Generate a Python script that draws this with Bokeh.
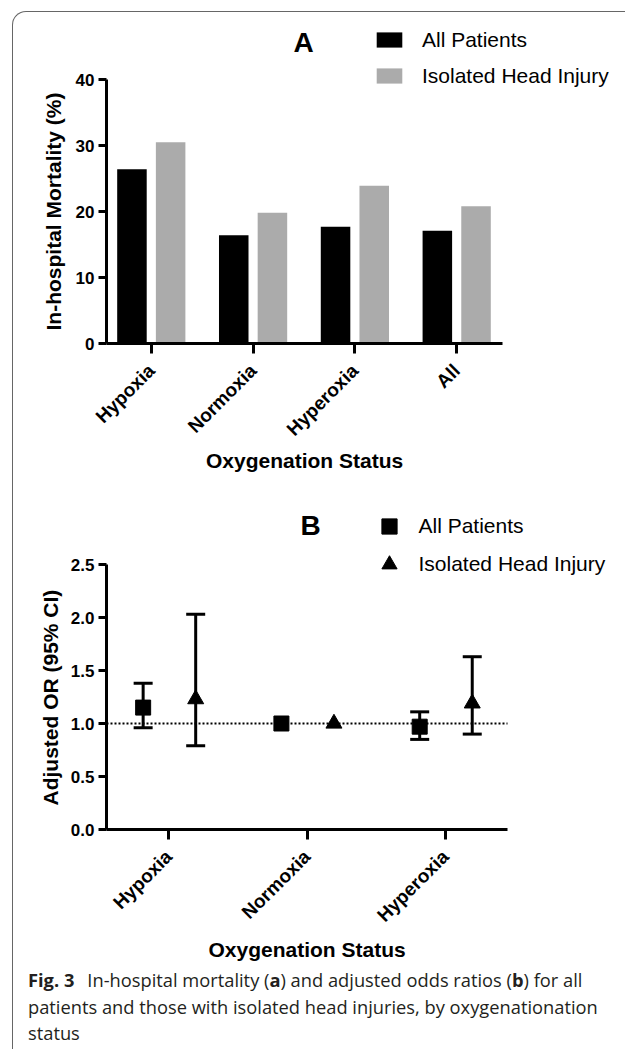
import math
from bokeh.plotting import figure
from bokeh.layouts import column
from bokeh.models import (ColumnDataSource, Range1d, FixedTicker, Legend, LegendItem,
                          Label, Title, Whisker, TeeHead, CustomJSTickFormatter, Div)
from bokeh.transform import dodge
from bokeh.embed import file_html
from bokeh.resources import INLINE

# ---------------- data ----------------
categories_a = ["Hypoxia", "Normoxia", "Hyperoxia", "All"]
mortality_all_patients = [26.4, 16.4, 17.7, 17.1]
mortality_isolated_head = [30.5, 19.8, 23.9, 20.8]
yticks_a = [0, 10, 20, 30, 40]

categories_b = ["Hypoxia", "Normoxia", "Hyperoxia"]
or_all_patients = [1.15, 1.00, 0.97]
or_all_lower = [0.96, None, 0.85]
or_all_upper = [1.38, None, 1.11]
or_isolated_head = [1.23, 1.00, 1.19]
or_ihi_lower = [0.79, None, 0.90]
or_ihi_upper = [2.03, None, 1.63]
yticks_b = [0.0, 0.5, 1.0, 1.5, 2.0, 2.5]
null_or = 1.0

series_names = ["All Patients", "Isolated Head Injury"]
panel_titles = ["A", "B"]
axis_title_x = "Oxygenation Status"
axis_title_ya = "In-hospital Mortality (%)"
axis_title_yb = "Adjusted OR (95% CI)"
caption_label = "Fig. 3"
caption_line1 = ["In-hospital mortality (", "a", ") and adjusted odds ratios (", "b", ") for all"]
caption_line2 = "patients and those with isolated head injuries, by oxygenationation"
caption_line3 = "status"

# ---------------- style / geometry ----------------
AX_FONT = "Liberation Sans"
CAP_FONT = "Open Sans"
BLACK = "#000000"
GREY = "#ababab"
W = 612
LEFT = 93          # common frame left (column children share it)
X_TITLE_W = 197    # approx rendered width of the x-axis title
ORIGIN_X = 13


class Panel:
    def __init__(self, origin_y, height, axis_right, y_axis_top, bottom, xaxis, yaxis,
                 y_title_len):
        self.origin = (ORIGIN_X, origin_y)
        self.height = height
        self.left, self.top, self.bottom = LEFT, 5, bottom
        self.xaxis, self.yaxis = xaxis, yaxis
        self.ppx = (axis_right - LEFT) / (xaxis[1] - xaxis[0])
        self.ppy = (bottom - y_axis_top) / (yaxis[1] - yaxis[0])
        self.x_range = (xaxis[0], xaxis[0] + (W - LEFT) / self.ppx)
        self.y_range = (yaxis[0], yaxis[0] + (bottom - self.top) / self.ppy)
        axis_cx = (LEFT + axis_right) / 2
        axis_cy = (bottom + y_axis_top) / 2
        self.x_title_offset = axis_cx - X_TITLE_W / 2 - LEFT
        self.y_title_offset = (bottom - axis_cy) - y_title_len / 2

    def data(self, px, py):
        cx, cy = px - self.origin[0], py - self.origin[1]
        return (self.xaxis[0] + (cx - self.left) / self.ppx,
                self.yaxis[0] + (self.bottom - cy) / self.ppy)

    def legend_loc(self, px, py, legend_h):
        return (px - self.origin[0] - self.left,
                self.bottom - (py - self.origin[1]) - legend_h)


GA = Panel(12, 474, 489, 67, 331, (-0.44, 3.45), (0, 40), 238)
GB = Panel(486, 476, 494, 78, 343, (-0.45, 2.45), (0, 2.5), 217)


def make_fig(g):
    return figure(width=W, height=g.height, output_backend="svg", toolbar_location=None,
                  x_range=Range1d(*g.x_range), y_range=Range1d(*g.y_range),
                  min_border_left=g.left, min_border_right=0,
                  min_border_top=g.top, min_border_bottom=g.height - g.bottom,
                  background_fill_color=None, border_fill_color=None)


def style(p, g, cats, yticks, y_title, x_std, y_std):
    p.xgrid.visible = False
    p.ygrid.visible = False
    p.outline_line_color = None
    p.xaxis.ticker = FixedTicker(ticks=list(range(len(cats))))
    p.xaxis.major_label_overrides = {i: c for i, c in enumerate(cats)}
    p.xaxis.major_label_orientation = math.pi / 4
    p.xaxis.bounds = g.xaxis
    p.yaxis.bounds = g.yaxis
    p.yaxis.ticker = FixedTicker(ticks=yticks)
    for ax in p.axis:
        ax.axis_line_width = 3
        ax.axis_line_color = BLACK
        ax.major_tick_line_width = 3
        ax.major_tick_line_color = BLACK
        ax.minor_tick_line_color = None
        ax.major_tick_in = 0
        ax.major_label_text_font = AX_FONT
        ax.major_label_text_font_style = "bold"
        ax.major_label_text_color = BLACK
    p.yaxis.major_tick_out = 8
    p.yaxis.major_label_standoff = 4
    p.yaxis.major_label_text_font_size = "17px"
    p.xaxis.major_tick_out = 10
    p.xaxis.major_label_standoff = 14
    p.xaxis.major_label_text_font_size = "19px"
    p.add_layout(Title(text=axis_title_x, align="left", offset=g.x_title_offset,
                       standoff=x_std, text_font=AX_FONT, text_font_style="bold",
                       text_font_size="21px", text_color=BLACK), "below")
    p.add_layout(Title(text=y_title, align="left", offset=g.y_title_offset,
                       standoff=y_std, text_font=AX_FONT, text_font_style="bold",
                       text_font_size="21px", text_color=BLACK), "left")


def panel_label(p, g, text, px, py):
    x, y = g.data(px, py)
    p.add_layout(Label(x=x, y=y, text=text, text_font=AX_FONT, text_font_style="bold",
                       text_font_size="28px", text_baseline="alphabetic",
                       text_align="left", text_color=BLACK))


# ---------------- panel A ----------------
pa = make_fig(GA)
src_a = ColumnDataSource(dict(x=list(range(len(categories_a))),
                              ap=mortality_all_patients, ih=mortality_isolated_head))
r_ap = pa.vbar(x=dodge("x", -0.19), top="ap", width=0.29, source=src_a,
               fill_color=BLACK, line_color=None)
r_ih = pa.vbar(x=dodge("x", 0.19), top="ih", width=0.29, source=src_a,
               fill_color=GREY, line_color=None)
style(pa, GA, categories_a, yticks_a, axis_title_ya, -7, 16)

leg_a = Legend(items=[LegendItem(label=series_names[0], renderers=[r_ap]),
                      LegendItem(label=series_names[1], renderers=[r_ih])],
               location=GA.legend_loc(373, 27.5, 60),
               glyph_width=32, glyph_height=19, spacing=12, padding=0, margin=0,
               label_standoff=17, label_height=19,
               label_text_font=AX_FONT, label_text_font_size="21px",
               label_text_color=BLACK,
               border_line_color=None, background_fill_alpha=0)
pa.add_layout(leg_a)
panel_label(pa, GA, panel_titles[0], 293, 42)

# ---------------- panel B ----------------
pb = make_fig(GB)
idx_b = list(range(len(categories_b)))
src_b = ColumnDataSource(dict(x=idx_b, ap=or_all_patients, ih=or_isolated_head))

pb.segment(x0=GB.xaxis[0], x1=GB.xaxis[1], y0=null_or, y1=null_or,
           line_color=BLACK, line_width=2, line_dash="2 2")

for lo, hi, off in ((or_all_lower, or_all_upper, -0.185),
                    (or_ihi_lower, or_ihi_upper, 0.195)):
    keep = [i for i in idx_b if lo[i] is not None]
    s = ColumnDataSource(dict(x=keep, lo=[lo[i] for i in keep], hi=[hi[i] for i in keep]))
    pb.add_layout(Whisker(base=dodge("x", off), lower="lo", upper="hi", source=s,
                          line_width=3, line_color=BLACK, level="glyph",
                          upper_head=TeeHead(size=19, line_width=3, line_color=BLACK),
                          lower_head=TeeHead(size=19, line_width=3, line_color=BLACK)))

r_sq = pb.scatter(x=dodge("x", -0.185), y="ap", source=src_b, marker="square",
                  size=15, fill_color=BLACK, line_color=BLACK)
r_tr = pb.scatter(x=dodge("x", 0.195), y="ih", source=src_b, marker="triangle",
                  size=16, fill_color=BLACK, line_color=BLACK)
style(pb, GB, categories_b, yticks_b, axis_title_yb, -1, 12)
pb.yaxis.formatter = CustomJSTickFormatter(code="return tick.toFixed(1)")

leg_b = Legend(items=[LegendItem(label=series_names[0], renderers=[r_sq]),
                      LegendItem(label=series_names[1], renderers=[r_tr])],
               location=GB.legend_loc(369.5, 507, 76),
               glyph_width=38, glyph_height=38, spacing=0, padding=0, margin=0,
               label_standoff=11, label_height=20,
               label_text_font=AX_FONT, label_text_font_size="21px",
               label_text_color=BLACK,
               border_line_color=None, background_fill_alpha=0)
pb.add_layout(leg_b)
panel_label(pb, GB, panel_titles[1], 300, 525)

# ---------------- caption ----------------
l1 = caption_line1
cap_html = (
    f'<div style="font-family:\'{CAP_FONT}\';font-size:18.3px;line-height:26.5px;'
    f'color:#231f20;padding:5px 0 0 15px;white-space:nowrap;">'
    f'<b>{caption_label}</b><span style="margin-left:13px">{l1[0]}</span>'
    f'<b>{l1[1]}</b>{l1[2]}<b>{l1[3]}</b>{l1[4]}<br>'
    f'{caption_line2}<br>{caption_line3}</div>'
)
caption = Div(text=cap_html, width=W, height=87, margin=(0, 0, 0, 0))

layout = column(pa, pb, caption, margin=(11, 0, 0, 12),
                styles={"border-left": "1px solid #666666",
                        "border-top": "1px solid #666666",
                        "border-top-left-radius": "14px"})

open("out.html", "w").write(file_html(layout, INLINE))
